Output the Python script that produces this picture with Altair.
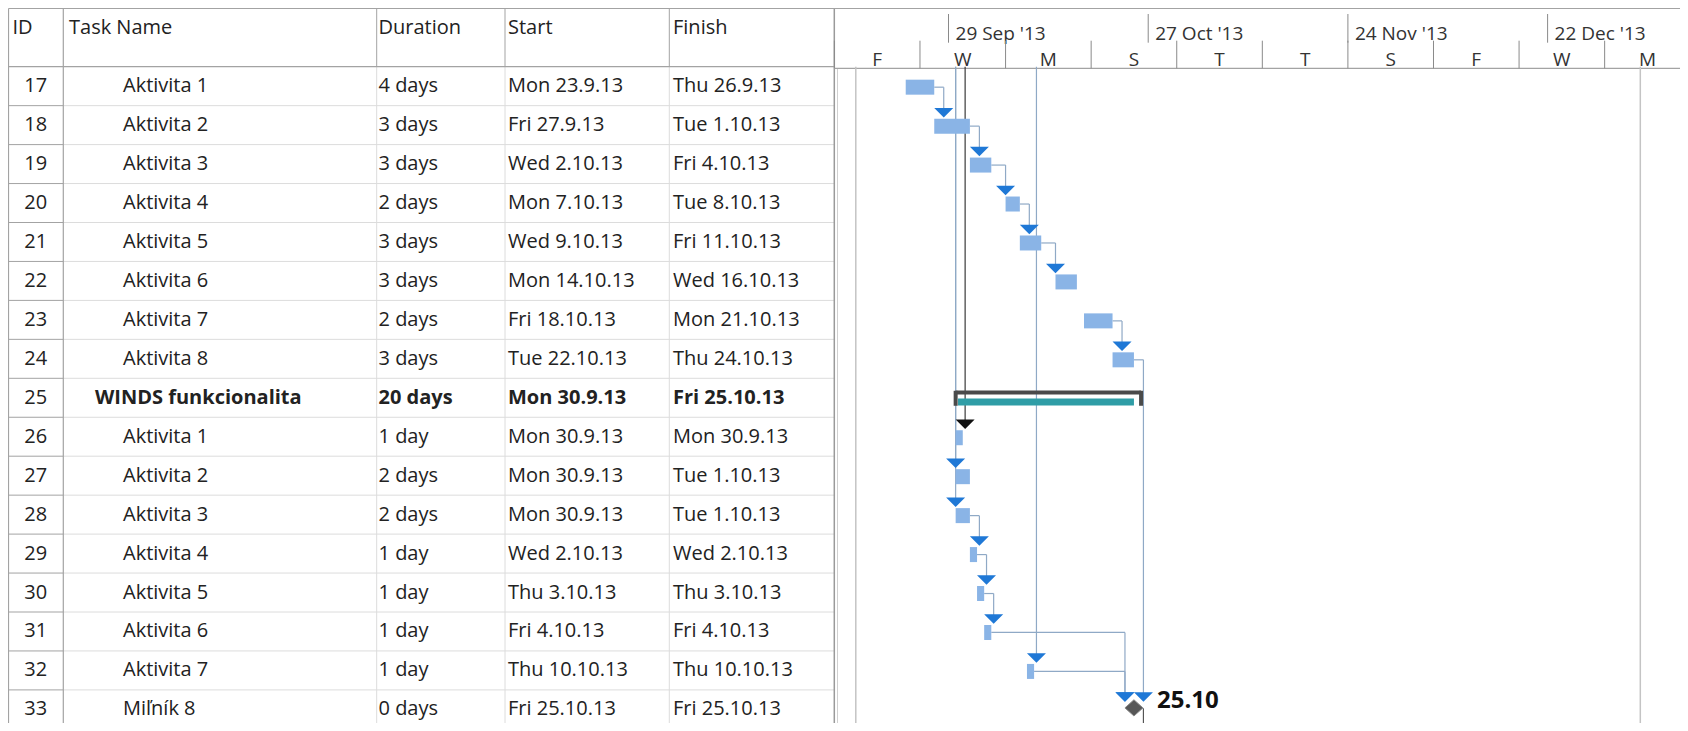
import altair as alt
import pandas as pd

# ---------------- data ----------------
ids = list(range(17, 34))
task_names = ["Aktivita 1", "Aktivita 2", "Aktivita 3", "Aktivita 4", "Aktivita 5",
              "Aktivita 6", "Aktivita 7", "Aktivita 8", "WINDS funkcionalita",
              "Aktivita 1", "Aktivita 2", "Aktivita 3", "Aktivita 4", "Aktivita 5",
              "Aktivita 6", "Aktivita 7", "Miľník 8"]
durations = ["4 days", "3 days", "3 days", "2 days", "3 days", "3 days", "2 days", "3 days",
             "20 days", "1 day", "2 days", "2 days", "1 day", "1 day", "1 day", "1 day", "0 days"]
start_labels = ["Mon 23.9.13", "Fri 27.9.13", "Wed 2.10.13", "Mon 7.10.13", "Wed 9.10.13",
                "Mon 14.10.13", "Fri 18.10.13", "Tue 22.10.13", "Mon 30.9.13", "Mon 30.9.13",
                "Mon 30.9.13", "Mon 30.9.13", "Wed 2.10.13", "Thu 3.10.13", "Fri 4.10.13",
                "Thu 10.10.13", "Fri 25.10.13"]
finish_labels = ["Thu 26.9.13", "Tue 1.10.13", "Fri 4.10.13", "Tue 8.10.13", "Fri 11.10.13",
                 "Wed 16.10.13", "Mon 21.10.13", "Thu 24.10.13", "Fri 25.10.13", "Mon 30.9.13",
                 "Tue 1.10.13", "Tue 1.10.13", "Wed 2.10.13", "Thu 3.10.13", "Fri 4.10.13",
                 "Thu 10.10.13", "Fri 25.10.13"]
task_types = ["task"] * 8 + ["summary"] + ["task"] * 7 + ["milestone"]

# dependency links between visible rows (predecessor -> successor)
link_from = [17, 18, 19, 20, 21, 23, 28, 29, 30, 31, 32, 24]
link_to = [18, 19, 20, 21, 22, 24, 29, 30, 31, 33, 33, 33]
# links coming from tasks above the visible rows
ext_in_to = [26, 27, 28, 32]
ext_in_pred_finish = ["2013-09-29", "2013-09-27", "2013-09-27", "2013-10-09"]
ext_in_critical = [True, False, False, False]
# link leaving the milestone to a task below the visible rows
ext_out_from = [33]

# teal bar drawn inside the summary bar
summary_inner_start = ["2013-09-30 08:00"]
summary_inner_finish = ["2013-10-25 00:00"]

# project start / finish lines
project_lines = ["2013-09-16", "2014-01-04"]

# timescale
top_tier_dates = ["2013-09-29", "2013-10-27", "2013-11-24", "2013-12-22"]
top_tier_labels = ["29 Sep '13", "27 Oct '13", "24 Nov '13", "22 Dec '13"]
bottom_tier_dates = ["2013-09-13", "2013-09-25", "2013-10-07", "2013-10-19", "2013-10-31",
                     "2013-11-12", "2013-11-24", "2013-12-06", "2013-12-18", "2013-12-30",
                     "2014-01-11"]
bottom_tier_labels = ["F", "W", "M", "S", "T", "T", "S", "F", "W", "M"]

# ---------------- helpers ----------------
ORIGIN = pd.Timestamp("2013-09-13")


def days(ts):
    return (pd.Timestamp(ts) - ORIGIN) / pd.Timedelta(days=1)


def parse_label(lbl):
    d, m, y = lbl.split()[1].split(".")
    return pd.Timestamp(2000 + int(y), int(m), int(d))


FONT = "Open Sans"
FS = 20
TXT = "#222222"
BAR = "#8ab4e6"
ARROW = "#1f78d6"
LINK = "#8fa9c6"
W, H = 1672, 715


def P(v):  # page pixel -> plot pixel
    return v - 8


XS = alt.Scale(domain=[0, 122], range=[P(834.4), P(834.4) + 122 * 7.132], zero=False, nice=False)
HEAD_B = 66.7
ROW_H = 38.95
YS = alt.Scale(domain=[16.5, 34.5], range=[P(HEAD_B), P(HEAD_B) + 18 * ROW_H], zero=False, nice=False)

one = alt.Data(values=[{"k": 1}])


def vline(px, y0, y1, color, w=1.0):
    return alt.Chart(one).mark_rule(color=color, strokeWidth=w).encode(
        x=alt.value(px), y=alt.value(y0), y2=alt.value(y1))


def hline(py, x0, x1, color, w=1.0):
    return alt.Chart(one).mark_rule(color=color, strokeWidth=w).encode(
        x=alt.value(x0), x2=alt.value(x1), y=alt.value(py))


def label(txt, px, py, size=FS, weight="normal", align="left"):
    return alt.Chart(one).mark_text(text=txt, font=FONT, fontSize=size, fontWeight=weight,
                                    color=TXT, align=align, baseline="middle").encode(
        x=alt.value(px), y=alt.value(py))


# ---------------- frames ----------------
starts = [parse_label(s) for s in start_labels]
finishes = [parse_label(s) for s in finish_labels]
start_d = {}
end_d = {}
for i, t, s, f in zip(ids, task_types, starts, finishes):
    if t == "milestone":
        start_d[i] = days(f)
        end_d[i] = days(f)
    else:
        start_d[i] = days(s)
        end_d[i] = days(f) + 1

tasks = pd.DataFrame({
    "id": ids, "name": task_names, "dur": durations, "start": start_labels,
    "finish": finish_labels, "type": task_types,
    "x0": [start_d[i] for i in ids], "x1": [end_d[i] for i in ids],
})
tasks["msl"] = [f"{f.day}.{f.month}" for f in finishes]

GAP = 1.33      # link elbow distance after predecessor end (days)
MS_HALF = 1.26  # half width of the milestone diamond (days)
ttype = dict(zip(ids, task_types))


def target(pred_end, s):
    if ttype[s] == "milestone":
        return max(pred_end + GAP, start_d[s] - MS_HALF)
    return max(pred_end + GAP, start_d[s])


links = pd.DataFrame([
    {"p": p, "s": s, "x0": end_d[p], "x1": target(end_d[p], s)}
    for p, s in zip(link_from, link_to)
])
ext_in = pd.DataFrame([
    {"top": 16.5, "s": s, "x1": target(days(f) + 1, s), "crit": "yes" if c else "no"}
    for s, f, c in zip(ext_in_to, ext_in_pred_finish, ext_in_critical)
])
ext_out = pd.DataFrame([
    {"p": p, "bottom": 34.5, "x0": end_d[p], "x1": end_d[p] + GAP} for p in ext_out_from
])
summary = tasks[tasks.type == "summary"].copy()
summary["ix0"] = [days(v) for v in summary_inner_start]
summary["ix1"] = [days(v) for v in summary_inner_finish]
proj = pd.DataFrame({"x": [days(v) for v in project_lines], "top": 16.5, "bottom": 34.5})
top_tier = pd.DataFrame({"x": [days(v) for v in top_tier_dates], "lbl": top_tier_labels})
bt = [days(v) for v in bottom_tier_dates]
bottom_ticks = pd.DataFrame({"x": bt})
bottom_lbls = pd.DataFrame({"x": [(a + b) / 2 for a, b in zip(bt[:-1], bt[1:])],
                            "lbl": bottom_tier_labels})
row_lines = pd.DataFrame({"y": [i + 0.5 for i in ids]})


def X(f):
    return alt.X(f, type="quantitative", scale=XS, axis=None)


def Y(f):
    return alt.Y(f, type="quantitative", scale=YS, axis=None)


def X2(f):
    return alt.X2(f)


def Y2(f):
    return alt.Y2(f)


layers = []

# ---------------- table ----------------
GRID = "#dcdcdc"
DARK = "#a3a3a3"
COLS = [P(63.3), P(376.7), P(505), P(669.3)]
layers.append(alt.Chart(row_lines).mark_rule(color=GRID, strokeWidth=1).encode(
    y=Y("y"), x=alt.value(COLS[0]), x2=alt.value(P(834.3))))
layers.append(alt.Chart(row_lines).mark_rule(color=DARK, strokeWidth=1).encode(
    y=Y("y"), x=alt.value(0.5), x2=alt.value(COLS[0])))
for c in COLS[1:]:
    layers.append(vline(c, P(HEAD_B), H, GRID))
    layers.append(vline(c, 0.5, P(HEAD_B), DARK))
layers.append(vline(0.5, 0.5, H, DARK, 1.2))
layers.append(vline(COLS[0], 0.5, H, DARK, 1.2))
layers.append(vline(P(834.3), 0.5, H, "#9a9a9a", 1.5))
layers.append(vline(P(837.5), P(68.3), H, "#d0d0d0", 1))
layers.append(hline(0.5, 0.5, W, DARK, 1.2))
layers.append(hline(P(HEAD_B), 0.5, P(834.3), DARK, 1.2))
layers.append(hline(P(68.3), P(834.3), W, DARK, 1.2))

# header texts
HY = P(27.5)
layers.append(label("ID", P(12.5), HY))
layers.append(label("Task Name", P(69), HY))
layers.append(label("Duration", P(378.5), HY))
layers.append(label("Start", P(508), HY))
layers.append(label("Finish", P(673), HY))

# cell texts
base = alt.Chart(tasks)
layers.append(base.mark_text(font=FONT, fontSize=FS, color=TXT, align="center",
                             baseline="middle").encode(
    x=alt.value(P(35.8)), y=Y("id"), text="id:N"))
for weight, flt in (("normal", "datum.type != 'summary'"), ("bold", "datum.type == 'summary'")):
    b = base.transform_filter(flt)
    name_x = P(95) if weight == "bold" else P(123)
    for field, px in (("name", name_x), ("dur", P(378.5)), ("start", P(508)), ("finish", P(673))):
        layers.append(b.mark_text(font=FONT, fontSize=FS, fontWeight=weight, color=TXT,
                                  align="left", baseline="middle").encode(
            x=alt.value(px), y=Y("id"), text=f"{field}:N"))

# ---------------- timescale ----------------
layers.append(alt.Chart(top_tier).mark_rule(color="#8a8a8a", strokeWidth=1).encode(
    x=X("x"), y=alt.value(P(14)), y2=alt.value(P(42.7))))
layers.append(alt.Chart(top_tier).mark_text(font=FONT, fontSize=19, color="#333333",
                                            align="left", baseline="alphabetic", dx=7).encode(
    x=X("x"), y=alt.value(P(39.5)), text="lbl:N"))
layers.append(alt.Chart(bottom_ticks).mark_rule(color="#8a8a8a", strokeWidth=1).encode(
    x=X("x"), y=alt.value(P(40.7)), y2=alt.value(P(68.3))))
layers.append(alt.Chart(bottom_lbls).mark_text(font=FONT, fontSize=19, color="#333333",
                                               align="center", baseline="alphabetic").encode(
    x=X("x"), y=alt.value(P(66)), text="lbl:N"))

# ---------------- gantt ----------------
layers.append(alt.Chart(proj).mark_rule(color="#c4c4c4", strokeWidth=1.5).encode(
    x=X("x"), y=Y("top"), y2=Y2("bottom")))

# links
layers.append(alt.Chart(links).mark_rule(color=LINK, strokeWidth=1.2, yOffset=1).encode(
    x=X("x0"), x2=X2("x1"), y=Y("p")))
layers.append(alt.Chart(links).mark_rule(color=LINK, strokeWidth=1.2, yOffset=1,
                                         y2Offset=-12.5).encode(
    x=X("x1"), y=Y("p"), y2=Y2("s")))
layers.append(alt.Chart(ext_in).mark_rule(strokeWidth=1.2, y2Offset=-12.5).encode(
    x=X("x1"), y=Y("top"), y2=Y2("s"),
    color=alt.Color("crit:N", scale=alt.Scale(domain=["yes", "no"], range=["#3a3a3a", LINK]),
                    legend=None)))
layers.append(alt.Chart(ext_out).mark_rule(color=LINK, strokeWidth=1.2, yOffset=-1).encode(
    x=X("x0"), x2=X2("x1"), y=Y("p")))
layers.append(alt.Chart(ext_out).mark_rule(color="#555555", strokeWidth=1.2, yOffset=-1).encode(
    x=X("x1"), y=Y("p"), y2=Y2("bottom")))

# task bars
layers.append(base.transform_filter("datum.type == 'task'").mark_rule(
    color=BAR, strokeWidth=15, yOffset=1).encode(x=X("x0"), x2=X2("x1"), y=Y("id")))

# summary bar
sb = alt.Chart(summary)
layers.append(sb.mark_rule(color="#2f9da6", strokeWidth=7, yOffset=4.3).encode(
    x=X("ix0"), x2=X2("ix1"), y=Y("id")))
layers.append(sb.mark_rule(color="#4a4a4a", strokeWidth=4, yOffset=-5.2).encode(
    x=X("x0"), x2=X2("x1"), y=Y("id")))
for f in ("x0", "x1"):
    layers.append(sb.mark_rule(color="#4a4a4a", strokeWidth=4, yOffset=-7, y2Offset=8).encode(
        x=X(f), y=Y("id"), y2=Y2("id")))

# arrow heads
TRI = "M-1,-0.5L1,-0.5L0,0.5Z"
layers.append(alt.Chart(links).mark_point(shape=TRI, size=361, filled=True, opacity=1,
                                          color=ARROW, yOffset=-12.5).encode(
    x=X("x1"), y=Y("s")))
layers.append(alt.Chart(ext_in).mark_point(shape=TRI, size=361, filled=True, opacity=1,
                                           yOffset=-12.5).encode(
    x=X("x1"), y=Y("s"),
    color=alt.Color("crit:N", scale=alt.Scale(domain=["yes", "no"], range=["#111111", ARROW]),
                    legend=None)))

# milestone
ms = base.transform_filter("datum.type == 'milestone'")
layers.append(ms.mark_point(shape="M-1,0L0,-0.9L1,0L0,0.9Z", size=324, filled=True, opacity=1,
                            color="#575757", stroke="#8a8a8a", strokeWidth=1,
                            yOffset=-1.5).encode(x=X("x0"), y=Y("id")))
layers.append(ms.mark_text(font=FONT, fontSize=24, fontWeight="bold", color="#111111",
                           align="left", baseline="middle", dx=23, dy=-8).encode(
    x=X("x0"), y=Y("id"), text="msl:N"))

chart = alt.layer(*layers).properties(
    width=W, height=H, padding=0, autosize=alt.AutoSizeParams(type="none"),
    background="white"
).configure_view(stroke=None).resolve_scale(color="independent")

chart.save("out.html", embed_options={"renderer": "svg", "actions": False})
